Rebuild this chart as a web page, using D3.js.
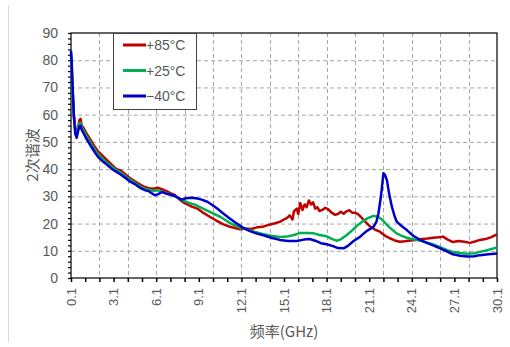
<!DOCTYPE html>
<html>
<head>
<meta charset="utf-8">
<script src="https://cdn.jsdelivr.net/npm/d3@7"></script>
<style>
  html, body { margin: 0; padding: 0; background: #fff; }
  svg { display: block; }
</style>
</head>
<body>
<div id="chart"></div>
<script>
// [frequency GHz, value]
const hot85 = [[0.1,82],[0.15,78],[0.2,70],[0.3,60],[0.4,55],[0.5,53],[0.6,55.5],[0.7,58],[0.77,58.5],[0.85,56],[1.0,55],[1.2,53],[1.5,50.5],[1.8,48],[2.0,46.5],[2.3,45],[2.6,43.5],[3.0,41.5],[3.3,40],[3.6,39.5],[4.0,37.8],[4.3,36.5],[4.6,35.5],[5.0,34.2],[5.3,33.4],[5.6,33],[5.9,32.8],[6.2,33.2],[6.5,32.6],[6.8,32],[7.1,31.2],[7.4,30.5],[7.7,29],[8.0,27.8],[8.3,27],[8.6,26.2],[9.0,25.5],[9.4,24],[9.9,22.4],[10.3,21.2],[10.8,19.8],[11.3,18.8],[12.0,17.9],[12.4,18.2],[12.8,18.0],[13.2,18.6],[13.6,18.8],[14.0,19.5],[14.4,20],[14.8,20.6],[15.1,21.5],[15.3,22],[15.5,23],[15.7,21.5],[15.8,24.5],[16.0,25.5],[16.1,23.5],[16.25,27.5],[16.4,25],[16.55,27],[16.7,26],[16.85,28.5],[17.0,27],[17.15,27.8],[17.3,25.5],[17.45,26],[17.6,24.6],[17.8,25],[18.0,25.8],[18.2,25.3],[18.45,24],[18.7,23.2],[18.9,23.5],[19.1,24.3],[19.3,23.6],[19.5,24.5],[19.7,24.9],[19.9,24],[20.1,24],[20.3,23.5],[20.5,22.5],[20.8,20.8],[21.15,19],[21.5,17.8],[21.85,17],[22.2,15.6],[22.55,14.6],[22.9,13.8],[23.25,13.3],[23.6,13.5],[24.0,13.8],[24.4,14],[24.8,14.3],[25.2,14.5],[25.6,14.8],[26.0,15],[26.3,15.2],[26.6,14.2],[27.0,13.2],[27.4,13.6],[27.8,13.3],[28.2,12.9],[28.6,13.5],[28.9,14],[29.3,14.3],[29.7,15],[30.1,16]];

const room25 = [[0.1,82.5],[0.15,77],[0.2,69],[0.3,59],[0.4,54],[0.5,52.5],[0.6,55],[0.7,56.8],[0.77,57],[0.85,55.5],[1.0,54],[1.2,52],[1.5,49.5],[1.8,47],[2.0,45.5],[2.3,44],[2.6,42.5],[3.0,40.8],[3.3,39.5],[3.6,38.8],[4.0,37],[4.3,36],[4.6,35],[5.0,33.5],[5.3,32.8],[5.6,32.4],[5.9,32],[6.2,32.2],[6.5,31.8],[6.8,31.2],[7.1,30.6],[7.4,30],[7.7,29.2],[8.0,28.5],[8.4,27.6],[8.9,26.8],[9.4,25.5],[10.1,23.7],[10.6,22.5],[11.3,20.2],[12.0,18.5],[12.5,17.8],[13.0,17],[13.65,16.1],[14.2,15.5],[14.8,15.1],[15.3,15.2],[15.8,15.8],[16.2,16.5],[16.7,16.5],[17.2,16.4],[17.6,15.8],[18.1,15.3],[18.5,14.3],[18.8,13.7],[19.1,14.2],[19.5,15.7],[19.9,17.5],[20.3,19.5],[20.7,21],[21.0,22],[21.4,22.8],[21.7,22.6],[22.0,21.5],[22.3,19.8],[22.55,18.5],[23.0,16.5],[23.4,15.5],[23.75,14.8],[24.2,14.2],[24.65,13.8],[25.1,13.2],[25.6,12.3],[26.1,11.3],[26.6,10.2],[27.0,9.6],[27.5,9.2],[28.0,8.9],[28.5,9.1],[28.9,9.6],[29.4,10.2],[29.8,10.8],[30.1,11.2]];

const cold40 = [[0.1,83.5],[0.15,79],[0.2,72],[0.3,60],[0.4,53],[0.5,51.5],[0.6,54],[0.7,55.8],[0.77,56],[0.85,54.5],[1.0,53],[1.2,51],[1.5,48.5],[1.8,46],[2.0,44.5],[2.3,43],[2.6,41.8],[3.0,40],[3.3,39],[3.6,38],[4.0,36.5],[4.3,35.3],[4.6,34.5],[5.0,33],[5.3,32.3],[5.6,31.8],[6.0,30.4],[6.25,30.8],[6.5,31.6],[6.8,31],[7.1,30.6],[7.4,30.2],[7.7,29.3],[7.9,28.8],[8.2,29.3],[8.6,29.5],[9.0,29.2],[9.3,28.8],[9.7,28],[10.0,27],[10.4,25.5],[10.8,23.8],[11.3,21.8],[11.7,20.3],[12.2,18.5],[12.7,17.2],[13.2,16.3],[13.65,15.7],[14.2,14.8],[14.8,14],[15.4,13.6],[16.0,13.6],[16.5,14.1],[16.9,14.3],[17.3,13.7],[17.7,12.8],[18.1,12.4],[18.5,11.8],[18.9,11],[19.3,10.9],[19.6,11.8],[20.0,13.6],[20.45,15.1],[20.7,16.3],[21.0,17.5],[21.4,18.8],[21.6,20.5],[21.75,23.7],[21.9,29],[22.0,33.4],[22.1,38.5],[22.2,38],[22.35,35.9],[22.5,31],[22.7,26.1],[22.9,22.5],[23.05,20.6],[23.4,19],[23.75,17.6],[24.2,15.5],[24.7,13.9],[25.1,13],[25.6,12],[26.1,10.9],[26.6,9.7],[27.0,8.7],[27.5,8.2],[28.0,7.9],[28.5,8.0],[28.9,8.4],[29.5,8.7],[30.1,9.0]];

const seriesNames = ["+85°C", "+25°C", "\u221240°C"];
const seriesColors = ["#c00000", "#00b050", "#0000cc"];
const xTickLabels = ["0.1", "3.1", "6.1", "9.1", "12.1", "15.1", "18.1", "21.1", "24.1", "27.1", "30.1"];
const yTicks = [0, 10, 20, 30, 40, 50, 60, 70, 80, 90];

const width = 510;
const height = 347;
const plot = { left: 71, right: 497, top: 33, bottom: 278 };

const x = d3.scaleLinear().domain([0.1, 30.1]).range([plot.left, plot.right]);
const y = d3.scaleLinear().domain([0, 90]).range([plot.bottom, plot.top]);

const svg = d3.select("#chart")
  .append("svg")
  .attr("width", width)
  .attr("height", height);

// page edge line on the left
svg.append("line")
  .attr("x1", 8.5).attr("x2", 8.5)
  .attr("y1", 5).attr("y2", 342)
  .attr("stroke", "#d9d9d9");

// gridlines
svg.append("g")
  .selectAll("line")
  .data(yTicks.filter(d => d > 0 && d < 90))
  .join("line")
  .attr("x1", plot.left).attr("x2", plot.right)
  .attr("y1", d => y(d) + 0.5).attr("y2", d => y(d) + 0.5)
  .attr("stroke", "#a6a6a6")
  .attr("stroke-dasharray", "4,3");

svg.append("g")
  .selectAll("line")
  .data(d3.range(2.1, 29, 2))
  .join("line")
  .attr("x1", d => Math.round(x(d)) + 0.5).attr("x2", d => Math.round(x(d)) + 0.5)
  .attr("y1", plot.top).attr("y2", plot.bottom)
  .attr("stroke", "#a6a6a6")
  .attr("stroke-dasharray", "4,3");

// axes
const xAxis = d3.axisBottom(x)
  .tickValues(d3.range(0.1, 30.2, 1))
  .tickSize(4)
  .tickFormat("");
svg.append("g")
  .attr("transform", `translate(0,${plot.bottom})`)
  .call(xAxis)
  .call(g => g.select(".domain").remove())
  .call(g => g.selectAll("line").attr("stroke", "#000").attr("stroke-width", 1.5));

svg.append("g")
  .selectAll("text")
  .data(xTickLabels)
  .join("text")
  .attr("transform", d => `translate(${x(+d)},288) rotate(-90)`)
  .attr("dy", "0.35em")
  .attr("text-anchor", "end")
  .attr("font-family", "Liberation Sans, Arial, sans-serif")
  .attr("font-size", 13)
  .attr("fill", "#595959")
  .text(d => d);

const yAxis = d3.axisLeft(y)
  .tickValues(d3.range(0, 91, 2))
  .tickSize(3)
  .tickFormat("");
svg.append("g")
  .attr("transform", `translate(${plot.left},0)`)
  .call(yAxis)
  .call(g => g.select(".domain").remove())
  .call(g => g.selectAll("line").attr("stroke", "#000").attr("stroke-width", 1.2));

svg.append("g")
  .selectAll("text")
  .data(yTicks)
  .join("text")
  .attr("x", 58)
  .attr("y", d => y(d))
  .attr("dy", "0.36em")
  .attr("text-anchor", "end")
  .attr("font-family", "Liberation Sans, Arial, sans-serif")
  .attr("font-size", 14)
  .attr("fill", "#595959")
  .text(d => d);

// plot frame
svg.append("rect")
  .attr("x", plot.left).attr("y", plot.top)
  .attr("width", plot.right - plot.left)
  .attr("height", plot.bottom - plot.top)
  .attr("fill", "none")
  .attr("stroke", "#000")
  .attr("stroke-width", 1.2);

// series
const line = d3.line()
  .x(d => x(d[0]))
  .y(d => y(d[1]));

svg.append("g")
  .selectAll("path")
  .data([hot85, room25, cold40])
  .join("path")
  .attr("d", line)
  .attr("fill", "none")
  .attr("stroke", (d, i) => seriesColors[i])
  .attr("stroke-width", 2.5)
  .attr("stroke-linejoin", "round");

// legend
const legend = svg.append("g");
legend.append("rect")
  .attr("x", 113.5).attr("y", 33.5)
  .attr("width", 83).attr("height", 76)
  .attr("fill", "#fff")
  .attr("stroke", "#404040");

const item = legend.selectAll("g")
  .data(seriesNames)
  .join("g")
  .attr("transform", (d, i) => `translate(0,${45 + i * 25.5})`);
item.append("line")
  .attr("x1", 123).attr("x2", 146)
  .attr("stroke", (d, i) => seriesColors[i])
  .attr("stroke-width", 3);
item.append("text")
  .attr("x", 146)
  .attr("dy", "0.36em")
  .attr("font-family", "Liberation Sans, Arial, sans-serif")
  .attr("font-size", 14)
  .attr("fill", "#595959")
  .text(d => d);

// axis titles
svg.append("text")
  .attr("transform", "translate(33,155) rotate(-90)")
  .attr("dy", "0.35em")
  .attr("text-anchor", "middle")
  .attr("font-family", "Noto Sans CJK SC, sans-serif")
  .attr("font-size", 15)
  .attr("fill", "#595959")
  .text("2次谐波");

svg.append("text")
  .attr("x", 284)
  .attr("y", 337)
  .attr("text-anchor", "middle")
  .attr("font-family", "Noto Sans CJK SC, sans-serif")
  .attr("font-size", 15)
  .attr("fill", "#595959")
  .text("频率(GHz)");
</script>
</body>
</html>
